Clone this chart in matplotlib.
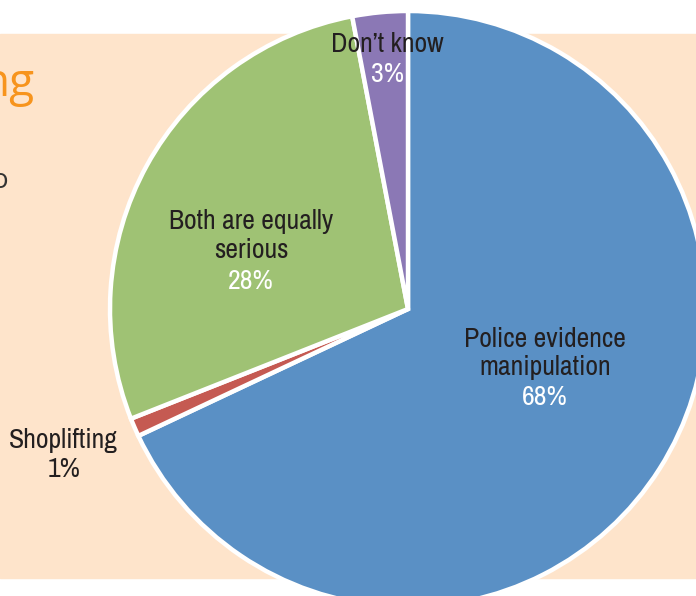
import matplotlib
matplotlib.use("Agg")
import matplotlib.pyplot as plt
from matplotlib.patches import Rectangle

# datos
labels = ["Police evidence\nmanipulation", "Shoplifting", "Both are equally\nserious", "Don\u2019t know"]
values = [68, 1, 28, 3]
colors = ["#5A90C5", "#C55A52", "#9FC274", "#8B78B5"]

narrow = ["Archivo Narrow", "Liberation Sans"]

W, H = 696, 596
fig = plt.figure(figsize=(W / 100, H / 100), dpi=100)
ax = fig.add_axes([0, 0, 1, 1])

def py(y):
    # coordenadas de pixel (desde arriba) -> datos
    return H - y

# fondo melocoton
ax.add_patch(Rectangle((0, py(578)), W, 578 - 34, color="#FEE4CB", zorder=0))

ax.pie(values, colors=colors, startangle=90, counterclock=False,
       center=(408, py(309)), radius=298, frame=True,
       wedgeprops=dict(edgecolor="white", linewidth=3.2))
ax.set_xlim(0, W)
ax.set_ylim(0, H)
ax.axis("off")

dark = "#231F20"
fs = 20

def put(x, y, s, color=dark):
    ax.text(x, py(y), s, ha="center", va="baseline", fontsize=fs,
            family=narrow, fontweight=600, color=color, zorder=5)

# etiquetas
put(545, 347, "Police evidence")
put(545, 375, "manipulation")
put(545, 405, "%d%%" % values[0], "white")

put(63, 448, "Shoplifting")
put(64, 477, "%d%%" % values[1])

put(251, 229, "Both are equally")
put(251, 258, "serious")
put(251, 289, "%d%%" % values[2], "white")

put(387, 52, "Don\u2019t know")
put(387, 82, "%d%%" % values[3], "white")

# texto cortado a la izquierda
ax.text(34, py(96), "ng", ha="right", va="baseline", fontsize=33,
        family="Open Sans", color="#F7941D")
ax.text(8, py(188), "o", ha="right", va="baseline", fontsize=20,
        family="Open Sans", color="#333333")

fig.savefig("out.png", dpi=100)
